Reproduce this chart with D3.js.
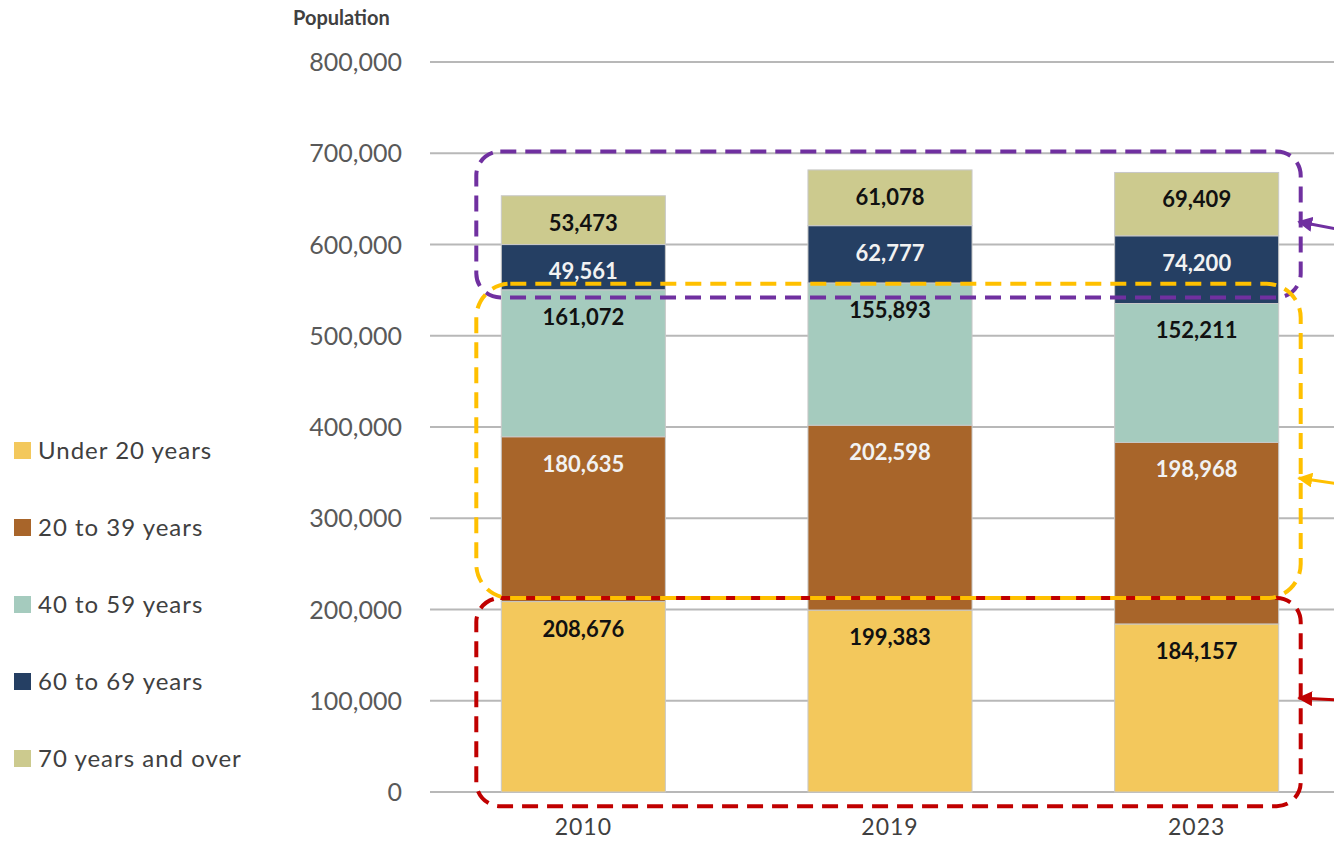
<!DOCTYPE html>
<html lang="en">

<head>
    <meta charset="UTF-8" />
    <title>Population by age group</title>
    <script src="https://d3js.org/d3.v7.min.js"></script>
    <style>
        body {
            margin: 0;
            background: #fff;
            font-family: Lato, "Noto Sans", sans-serif;
        }
    </style>
</head>

<body>
    <div id="chart"></div>

    <script>
        const years = ["2010", "2019", "2023"];
        const ageGroups = ["Under 20 years", "20 to 39 years", "40 to 59 years", "60 to 69 years", "70 years and over"];
        const under20 = [208676, 199383, 184157];
        const age20to39 = [180635, 202598, 198968];
        const age40to59 = [161072, 155893, 152211];
        const age60to69 = [49561, 62777, 74200];
        const age70plus = [53473, 61078, 69409];
        const yTicks = [0, 100000, 200000, 300000, 400000, 500000, 600000, 700000, 800000];

        const colors = ["#F3C85C", "#A8652A", "#A5CBBE", "#253F63", "#CCCA8E"];
        const labelColors = ["#111", "#f2f2f2", "#111", "#f2f2f2", "#111"];

        // highlighted ranges (population units) with arrow heights
        const boxes = [
            { lo: 542000, hi: 702000, arrowFrom: 617000, arrowTo: 625000, color: "#7030A0", r: 24 },
            { lo: -15500, hi: 212500, arrowFrom: 101000, arrowTo: 103000, color: "#C00000", r: 24 },
            { lo: 212500, hi: 557000, arrowFrom: 338000, arrowTo: 344000, color: "#FFC000", r: 34 }
        ];

        const width = 1334, height = 842;

        const series = [under20, age20to39, age40to59, age60to69, age70plus];
        const table = years.map((yr, i) => {
            const row = { year: yr };
            ageGroups.forEach((g, k) => row[g] = series[k][i]);
            return row;
        });
        const stacked = d3.stack().keys(ageGroups)(table);

        const x = d3.scaleBand().domain(years).range([430, 1350]).paddingInner(0.465).paddingOuter(0.2325);
        const y = d3.scaleLinear().domain([0, 800000]).range([792, 62]);

        const svg = d3.select("#chart").append("svg")
            .attr("width", width)
            .attr("height", height);

        svg.append("rect").attr("width", width).attr("height", height).attr("fill", "#fff");

        // gridlines
        svg.append("g").selectAll("line")
            .data(yTicks)
            .join("line")
            .attr("x1", 430).attr("x2", width)
            .attr("y1", d => y(d)).attr("y2", d => y(d))
            .attr("stroke", "#b8b8b8")
            .attr("stroke-width", 2);

        // y axis labels
        svg.append("g").selectAll("text")
            .data(yTicks)
            .join("text")
            .attr("x", 402)
            .attr("y", d => y(d))
            .attr("dy", "0.36em")
            .attr("text-anchor", "end")
            .attr("font-size", 25)
            .attr("fill", "#595959")
            .text(d => d3.format(",")(d));

        svg.append("text")
            .attr("x", 293).attr("y", 25)
            .attr("font-size", 20)
            .attr("font-weight", "bold")
            .attr("fill", "#404040")
            .text("Population");

        // bars
        const layers = svg.append("g").selectAll("g")
            .data(stacked)
            .join("g")
            .attr("fill", (d, i) => colors[i]);

        layers.selectAll("rect")
            .data(d => d)
            .join("rect")
            .attr("x", d => x(d.data.year))
            .attr("width", x.bandwidth())
            .attr("y", d => y(d[1]))
            .attr("height", d => y(d[0]) - y(d[1]))
            .attr("stroke", "#c8c8c8")
            .attr("stroke-width", 1);

        layers.each(function (layer, i) {
            d3.select(this).selectAll("text")
                .data(layer)
                .join("text")
                .attr("x", d => x(d.data.year) + x.bandwidth() / 2)
                .attr("y", d => y(d[1]) + 27)
                .attr("dy", "0.36em")
                .attr("text-anchor", "middle")
                .attr("font-size", 22)
                .attr("font-weight", "bold")
                .attr("fill", labelColors[i])
                .text(d => d3.format(",")(d[1] - d[0]));
        });

        // x axis labels
        svg.append("g").selectAll("text")
            .data(years)
            .join("text")
            .attr("x", d => x(d) + x.bandwidth() / 2)
            .attr("y", 827)
            .attr("dy", "0.36em")
            .attr("text-anchor", "middle")
            .attr("font-size", 23)
            .attr("letter-spacing", 1)
            .attr("fill", "#404040")
            .text(d => d);

        // legend
        const legend = svg.append("g").selectAll("g")
            .data(ageGroups)
            .join("g")
            .attr("transform", (d, i) => `translate(14, ${450 + i * 77})`);

        legend.append("rect")
            .attr("x", 0).attr("y", -8)
            .attr("width", 17).attr("height", 17)
            .attr("fill", (d, i) => colors[i]);

        legend.append("text")
            .attr("x", 24)
            .attr("dy", "0.36em")
            .attr("font-size", 24)
            .attr("letter-spacing", 1)
            .attr("fill", "#404040")
            .text(d => d);

        // dashed highlight boxes with arrows
        const boxLeft = x(years[0]) - 25;
        const boxRight = x(years[years.length - 1]) + x.bandwidth() + 22;

        const defs = svg.append("defs");
        boxes.forEach((b, i) => {
            defs.append("marker")
                .attr("id", `arrow-${i}`)
                .attr("viewBox", "0 0 10 10")
                .attr("refX", 9).attr("refY", 5)
                .attr("markerWidth", 5).attr("markerHeight", 5)
                .attr("markerUnits", "strokeWidth")
                .attr("orient", "auto")
                .append("path")
                .attr("d", "M0,0 L10,5 L0,10 z")
                .attr("fill", b.color);
        });

        const notes = svg.append("g");
        boxes.forEach((b, i) => {
            notes.append("rect")
                .attr("x", boxLeft)
                .attr("y", y(b.hi))
                .attr("width", boxRight - boxLeft)
                .attr("height", y(b.lo) - y(b.hi))
                .attr("rx", b.r).attr("ry", b.r)
                .attr("fill", "none")
                .attr("stroke", b.color)
                .attr("stroke-width", 4)
                .attr("stroke-dasharray", "16 9");

            notes.append("line")
                .attr("x1", width + 2).attr("y1", y(b.arrowFrom))
                .attr("x2", boxRight - 2).attr("y2", y(b.arrowTo))
                .attr("stroke", b.color)
                .attr("stroke-width", 3)
                .attr("marker-end", `url(#arrow-${i})`);
        });
    </script>
</body>

</html>
